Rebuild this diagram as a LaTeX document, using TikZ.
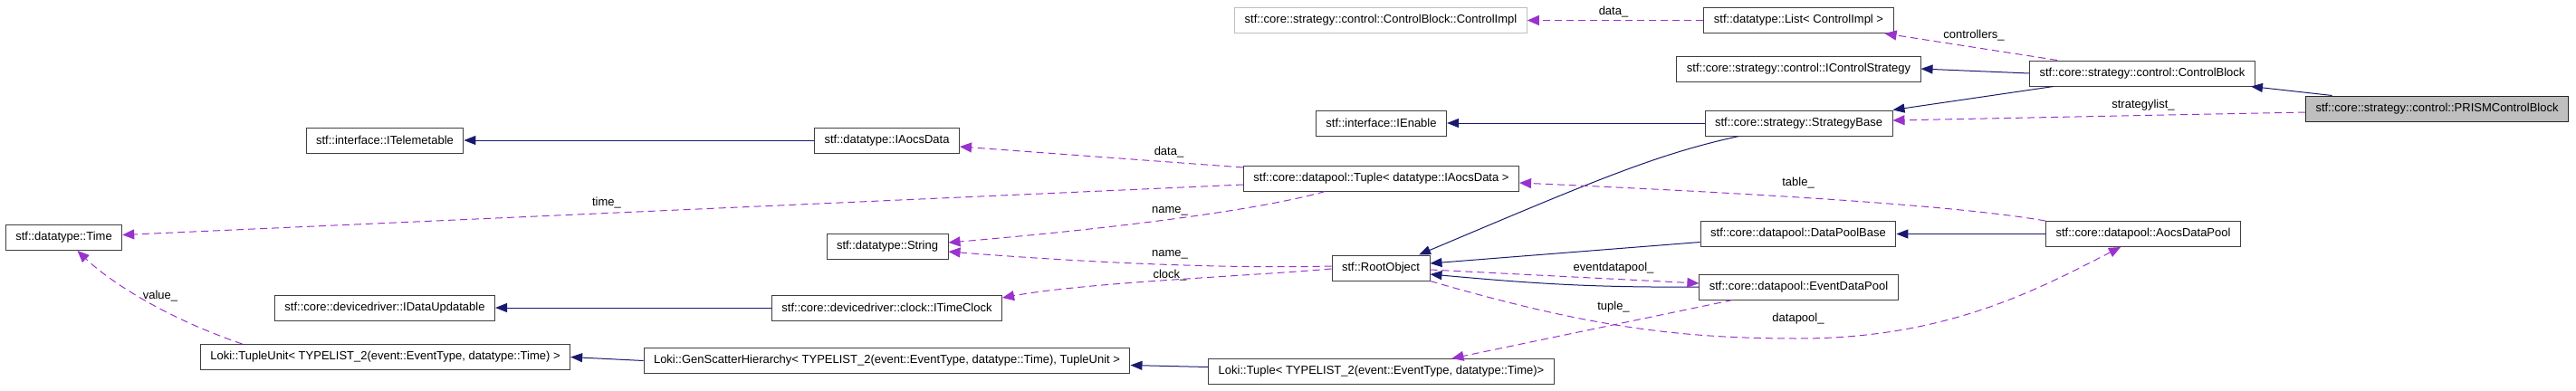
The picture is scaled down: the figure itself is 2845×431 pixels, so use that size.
\documentclass[tikz,border=0pt]{standalone}
\usepackage{fontspec}
\setmainfont{Liberation Sans}
\usetikzlibrary{arrows.meta}
\definecolor{inhblue}{RGB}{25,25,112}
\definecolor{usepurple}{RGB}{154,50,205}
\definecolor{boxgray}{RGB}{191,191,191}

\begin{document}
\begin{tikzpicture}[
    x=1pt, y=-1pt,
    cls/.style={draw=black!75, line width=1pt, fill=white, minimum height=28pt, inner xsep=11pt, inner ysep=0pt, font=\fontsize{13}{15}\selectfont},
    ghost/.style={cls, draw=boxgray},
    focus/.style={cls, fill=boxgray, draw=black!85},
    lbl/.style={font=\fontsize{13}{15}\selectfont, inner sep=1pt},
    inh/.style={draw=inhblue, line width=1pt, -{Triangle[length=13pt,width=10pt]}},
    use/.style={draw=usepurple, line width=1pt, dash pattern=on 8pt off 5pt, -{Triangle[length=13pt,width=11pt]}},
  ]
    \useasboundingbox (0,0) rectangle (2845,431);
    % Classes, top rows
    \node[ghost] (ctrlimpl) at (1525,22.5) {stf::core::strategy::control::ControlBlock::ControlImpl};
    \node[cls] (list) at (1986.5,22.5) {stf::datatype::List< ControlImpl >};
    \node[cls] (ictrl) at (1986.5,76) {stf::core::strategy::control::IControlStrategy};
    \node[cls] (ctrlblock) at (2366,81) {stf::core::strategy::control::ControlBlock};
    \node[focus] (prism) at (2691.5,120) {stf::core::strategy::control::PRISMControlBlock};
    \node[cls] (itelem) at (425,155) {stf::interface::ITelemetable};
    \node[cls] (iaocs) at (979.5,155) {stf::datatype::IAocsData};
    \node[cls] (ienable) at (1525.5,136) {stf::interface::IEnable};
    \node[cls] (stratbase) at (1986.5,136) {stf::core::strategy::StrategyBase};
    \node[cls] (tupleaocs) at (1525.5,197) {stf::core::datapool::Tuple< datatype::IAocsData >};
    % Classes, bottom rows
    \node[cls] (time) at (70.5,262.5) {stf::datatype::Time};
    \node[cls] (string) at (980,272) {stf::datatype::String};
    \node[cls] (rootobj) at (1525,296) {stf::RootObject};
    \node[cls] (dpbase) at (1986,258.5) {stf::core::datapool::DataPoolBase};
    \node[cls] (aocsdp) at (2367,258.5) {stf::core::datapool::AocsDataPool};
    \node[cls] (evdp) at (1986.5,317) {stf::core::datapool::EventDataPool};
    \node[cls] (idataupd) at (425,340) {stf::core::devicedriver::IDataUpdatable};
    \node[cls] (itimeclock) at (979.5,340) {stf::core::devicedriver::clock::ITimeClock};
    \node[cls] (tupleunit) at (425.5,394.5) {Loki::TupleUnit< TYPELIST\_2(event::EventType, datatype::Time) >};
    \node[cls] (genscatter) at (979.5,398.5) {Loki::GenScatterHierarchy< TYPELIST\_2(event::EventType, datatype::Time), TupleUnit >};
    \node[cls] (lokituple) at (1525.5,410.5) {Loki::Tuple< TYPELIST\_2(event::EventType, datatype::Time)>};

    % Inheritance
    \draw[inh] (iaocs.west) -- (itelem.east);
    \draw[inh] (stratbase.west) -- (ienable.east);
    \draw[inh] (ctrlblock.west) -- (ictrl.east);
    \draw[inh] ([xshift=-98pt]ctrlblock.south) -- (stratbase.north east);
    \draw[inh] ([xshift=-116pt]prism.north) -- ([xshift=-5pt]ctrlblock.south east);
    \draw[inh] ([xshift=-66pt]stratbase.south) .. controls (1830,170) and (1760,200) .. ([xshift=42pt]rootobj.north);
    \draw[inh] ([yshift=-9pt]dpbase.west) -- ([yshift=5pt]rootobj.east);
    \draw[inh] (evdp.west) .. controls (1750,318) and (1680,312) .. ([yshift=-7pt]rootobj.east);
    \draw[inh] (aocsdp.west) -- (dpbase.east);
    \draw[inh] (itimeclock.west) -- (idataupd.east);
    \draw[inh] ([yshift=5pt]lokituple.west) -- ([yshift=-5pt]genscatter.east);
    \draw[inh] (genscatter.west) -- (tupleunit.east);

    % Members
    \draw[use] (list.west) -- (ctrlimpl.east);
    \draw[use] ([xshift=-94pt]ctrlblock.north) -- ([xshift=-10pt]list.south east);
    \draw[use] ([yshift=-4pt]prism.west) -- ([yshift=3pt]stratbase.east);
    \draw[use] ([yshift=-2pt]rootobj.east) -- ([yshift=4pt]evdp.west);
    \draw[use] (aocsdp.north west) .. controls (2150,225) and (1900,212) .. ([yshift=-5pt]tupleaocs.east);
    \draw[use] (rootobj.south east) .. controls (1750,360) and (1850,374) .. (1986,374)
      .. controls (2150,374) and (2250,320) .. ([xshift=-25pt]aocsdp.south);
    \draw[use] ([xshift=-73pt]evdp.south) -- ([xshift=78pt]lokituple.north);
    \draw[use] ([xshift=-158pt]tupleunit.north) .. controls (180,350) and (120,310) .. ([xshift=15pt]time.south);
    \draw[use] ([yshift=-7pt]tupleaocs.west) -- ([yshift=3pt]time.east);
    \draw[use] ([yshift=12pt]tupleaocs.west) -- ([yshift=-7pt]iaocs.east);
    \draw[use] ([xshift=-62pt]tupleaocs.south) .. controls (1380,235) and (1200,255) .. ([yshift=4pt]string.east);
    \draw[use] ([yshift=2pt]rootobj.west) .. controls (1350,297) and (1200,290) .. ([yshift=-6pt]string.east);
    \draw[use] ([yshift=-1pt]rootobj.west) .. controls (1380,305) and (1200,312) .. ([yshift=11pt]itimeclock.east);

    % Member names
    \node[lbl] (lctrldata) at (1782,13) {data\_};
    \node[lbl] (lctrls) at (2180,39) {controllers\_};
    \node[lbl] (lstrat) at (2367,116) {strategylist\_};
    \node[lbl] (ldata) at (1291,168) {data\_};
    \node[lbl] (ltime) at (670,224) {time\_};
    \node[lbl] (ltable) at (1986,202) {table\_};
    \node[lbl] (lname) at (1292,233) {name\_};
    \node[lbl] (lrootname) at (1292,281) {name\_};
    \node[lbl] (lclock) at (1292,304) {clock\_};
    \node[lbl] (levdp) at (1782,296) {eventdatapool\_};
    \node[lbl] (ltuple) at (1782,339) {tuple\_};
    \node[lbl] (ldp) at (1986,352) {datapool\_};
    \node[lbl] (lvalue) at (177,327) {value\_};
  \end{tikzpicture}
\end{document}
